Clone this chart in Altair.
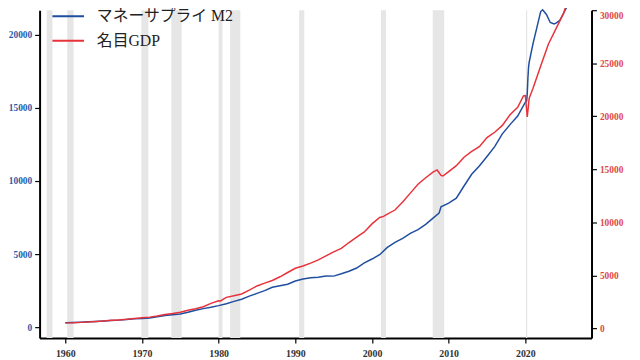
import altair as alt
import pandas as pd

# Recessions (start, end) in decimal years
rec_start = [1957.58, 1960.25, 1969.92, 1973.83, 1980.0, 1981.5, 1990.5, 2001.17, 2007.92, 2020.08]
rec_end   = [1958.33, 1961.08, 1970.83, 1975.17, 1980.5, 1982.83, 1991.17, 2001.83, 2009.42, 2020.25]

# Money supply M2 (billions of dollars)
m2_years = [1960, 1961, 1962, 1963, 1964, 1965, 1966, 1967, 1968, 1969,
            1970, 1971, 1972, 1973, 1974, 1975, 1976, 1977, 1978, 1979,
            1980, 1981, 1982, 1983, 1984, 1985, 1986, 1987, 1988, 1989,
            1990, 1991, 1992, 1993, 1994, 1995, 1996, 1997, 1998, 1999,
            2000, 2001, 2002, 2003, 2004, 2005, 2006, 2007, 2008, 2008.75,
            2009, 2010, 2011, 2012, 2013, 2014, 2015, 2016, 2017, 2018,
            2019, 2020, 2020.17, 2020.25, 2020.33, 2020.42, 2020.5, 2021, 2021.5, 2022,
            2022.25, 2022.75, 2023.25, 2023.75, 2024, 2024.5, 2025, 2025.5]
m2_values = [298, 313, 336, 364, 393, 425, 460, 481, 526, 568,
             589, 628, 711, 802, 856, 908, 1017, 1152, 1270, 1366,
             1475, 1601, 1765, 1908, 2124, 2310, 2498, 2734, 2838, 2939,
             3155, 3295, 3384, 3416, 3499, 3493, 3653, 3828, 4046, 4397,
             4663, 4960, 5460, 5800, 6070, 6420, 6680, 7030, 7480, 7800,
             8240, 8490, 8830, 9660, 10460, 11030, 11680, 12350, 13230, 13860,
             14450, 15400, 15470, 16000, 17000, 17800, 18130, 19400, 20500, 21600,
             21720, 21400, 20850, 20750, 20800, 21000, 21500, 22000]

# Nominal GDP (billions of dollars, SAAR)
gdp_years = [1960, 1961, 1962, 1963, 1964, 1965, 1966, 1967, 1968, 1969,
             1970, 1971, 1972, 1973, 1974, 1975, 1976, 1977, 1978, 1979,
             1980, 1980.25, 1981, 1982, 1983, 1984, 1985, 1986, 1987, 1988,
             1989, 1990, 1991, 1992, 1993, 1994, 1995, 1996, 1997, 1998,
             1999, 2000, 2001, 2001.5, 2002, 2003, 2004, 2005, 2006, 2007,
             2008, 2008.5, 2009, 2009.25, 2010, 2011, 2012, 2013, 2014, 2015,
             2016, 2017, 2018, 2019, 2019.75, 2020, 2020.25, 2020.5, 2021, 2022,
             2023, 2024, 2025, 2025.25]
gdp_values = [543, 545, 590, 618, 665, 710, 780, 822, 876, 958,
              1017, 1085, 1187, 1335, 1424, 1547, 1728, 1877, 2066, 2380,
              2618, 2613, 2946, 3104, 3266, 3637, 4020, 4290, 4540, 4886,
              5290, 5684, 5903, 6170, 6477, 6850, 7234, 7567, 8113, 8630,
              9112, 9869, 10470, 10580, 10783, 11175, 11923, 12767, 13599, 14216,
              14770, 14950, 14430, 14380, 14800, 15350, 16150, 16700, 17150, 18000,
              18500, 19150, 20150, 20850, 21930, 21950, 19940, 21700, 22650, 24750,
              26800, 28270, 29720, 30330]

left_ticks = [0, 5000, 10000, 15000, 20000]
right_ticks = [0, 5000, 10000, 15000, 20000, 25000, 30000]
year_ticks = [1960, 1970, 1980, 1990, 2000, 2010, 2020]

series_names = ["マネーサプライ M2", "名目GDP"]
series_colors = ["#1f4e9e", "#e8323a"]

rec_df = pd.DataFrame({"start": rec_start, "end": rec_end})
m2_df = pd.DataFrame({"year": m2_years, "value": m2_values, "series": series_names[0]})
gdp_df = pd.DataFrame({"year": gdp_years, "value": gdp_values, "series": series_names[1]})

W, H = 559, 332
xscale = alt.Scale(domain=[1956.65, 2028.63], nice=False, zero=False)
num_font = "Liberation Serif"

xaxis = alt.Axis(values=year_ticks, format="d",
                 title=None, grid=False, domainColor="black", domainWidth=2,
                 tickColor="black", tickSize=5, tickWidth=1.2,
                 labelFont=num_font, labelFontWeight="bold", labelFontSize=10,
                 labelColor="#333333", labelPadding=6)

color = alt.Color("series:N",
                  scale=alt.Scale(domain=series_names, range=series_colors),
                  legend=alt.Legend(title=None, orient="none", legendX=12, legendY=-11,
                                    symbolType="stroke", symbolSize=1024,
                                    symbolStrokeWidth=2,
                                    labelFont="Liberation Serif, Noto Sans CJK JP",
                                    labelFontSize=16, labelColor="#222222", labelOffset=12,
                                    rowPadding=-8, padding=0))

rects = alt.Chart(rec_df).mark_rect(color="#e6e6e6").encode(
    x=alt.X("start:Q", scale=xscale, axis=xaxis),
    x2="end:Q",
    y=alt.value(0),
    y2=alt.value(H),
)

m2_line = alt.Chart(m2_df).mark_line(strokeWidth=1.5).encode(
    x=alt.X("year:Q", scale=xscale, axis=xaxis),
    y=alt.Y("value:Q",
            scale=alt.Scale(domain=[-743, 21689], nice=False, zero=False),
            axis=alt.Axis(orient="left", values=left_ticks, format="d", title=None,
                          grid=False, domainColor="black", domainWidth=2,
                          tickColor="black", tickSize=5, tickWidth=1.2,
                          labelFont=num_font, labelFontWeight="bold", labelFontSize=9.5,
                          labelColor="#2a5ba8", labelPadding=3)),
    color=color,
)

gdp_line = alt.Chart(gdp_df).mark_line(strokeWidth=1.5).encode(
    x=alt.X("year:Q", scale=xscale, axis=xaxis),
    y=alt.Y("value:Q",
            scale=alt.Scale(domain=[-884, 30000], nice=False, zero=False),
            axis=alt.Axis(orient="right", values=right_ticks, format="d",
                          title=None, grid=False, domainColor="black", domainWidth=2,
                          tickColor="black", tickSize=5, tickWidth=1.2,
                          labelFont=num_font, labelFontWeight="bold", labelFontSize=9.5,
                          labelColor="#e04848", labelPadding=3, labelFlush=True)),
    color=color,
)

chart = alt.layer(rects, m2_line, gdp_line).resolve_scale(y="independent").properties(
    width=W, height=H,
    autosize=alt.AutoSizeParams(type="none"),
    padding={"left": 32, "top": 0, "right": 41, "bottom": 19},
    background="white",
).configure_view(strokeWidth=0)

chart.save("out.html", embed_options={"renderer": "svg", "actions": False})
